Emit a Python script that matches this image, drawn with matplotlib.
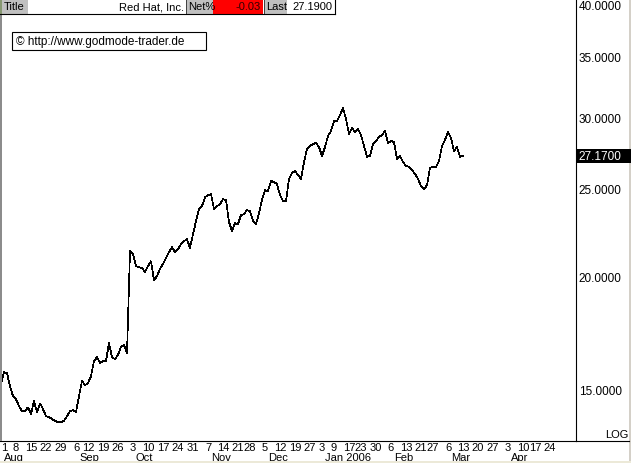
import matplotlib
matplotlib.use("Agg")
import matplotlib.pyplot as plt
import matplotlib.transforms as mtransforms
from matplotlib.patches import Rectangle
from matplotlib.lines import Line2D
from matplotlib.ticker import NullLocator
import pandas as pd

# ---------------- data ----------------
title_name = "Red Hat, Inc."
net_pct_text = "-0.03"
last_text = "27.1900"
current_price = 27.17
current_text = "27.1700"
watermark = "\u00a9 http://www.godmode-trader.de"

start_date = "2005-08-01"
end_date = "2006-04-28"
market_holidays = ["2005-09-05", "2005-11-24", "2005-12-26", "2006-01-02",
                   "2006-01-16", "2006-02-20", "2006-04-14"]

closes = [
    15.19, 15.66, 15.62, 15.11, 14.73, 14.62, 14.36, 14.18, 14.18, 14.32,
    14.07, 14.55, 14.14, 14.47, 14.25, 14.00, 13.97, 13.90, 13.83, 13.79,
    13.79, 13.83, 14.00, 14.18, 14.21, 14.14, 14.73, 15.31, 15.15, 15.23,
    15.50, 16.11, 16.27, 16.03, 16.11, 16.11, 16.87, 16.27, 16.19, 16.36,
    16.70, 16.78, 16.44, 21.32, 21.16, 20.52, 20.47, 20.42, 20.21, 20.52,
    20.78, 19.80, 20.00, 20.37, 20.63, 20.94, 21.27, 21.54, 21.27, 21.43,
    21.70, 21.87, 21.98, 21.49, 22.26, 23.01, 23.73, 23.91, 24.46, 24.59,
    24.65, 23.73, 23.91, 24.03, 24.34, 24.28, 22.96, 22.44, 22.90, 22.84,
    23.37, 23.43, 23.67, 23.61, 23.01, 22.84, 23.49, 24.28, 24.91, 24.84,
    25.49, 25.42, 25.29, 24.59, 24.22, 24.22, 25.62, 26.01, 26.15, 25.88,
    25.62, 26.75, 27.65, 27.86, 28.01, 28.08, 27.79, 27.17, 27.79, 28.59,
    28.95, 29.70, 29.70, 30.16, 30.70, 29.85, 28.73, 29.17, 28.88, 29.10,
    28.66, 27.86, 27.10, 27.17, 28.01, 28.23, 28.52, 28.66, 28.95, 28.08,
    28.23, 28.15, 26.96, 27.17, 26.75, 26.48, 26.42, 26.21, 25.95, 25.62,
    25.16, 24.97, 25.22, 26.35, 26.42, 26.42, 26.82, 27.86, 28.30, 28.88,
    28.44, 27.51, 27.79, 27.10, 27.17,
]

y_ticks = [15, 20, 25, 30, 35, 40]
y_tick_labels = ["15.0000", "20.0000", "25.0000", "30.0000", "35.0000", "40.0000"]

# ---------------- figure ----------------
W, H = 631, 464
plt.rcParams["font.family"] = ["Liberation Sans", "DejaVu Sans"]
fig = plt.figure(figsize=(W / 100, H / 100), dpi=100)
fig.patch.set_facecolor("white")


def fx(x):
    return x / W


def fy(y):
    return 1 - y / H


ax = fig.add_axes([0, 22 / H, 576 / W, 442 / H])
ax.set_facecolor("white")

days = pd.bdate_range(start_date, end_date, freq="C", holidays=market_holidays)
n = len(closes)
ax.plot(range(n), closes, color="black", lw=0.5, antialiased=False,
        solid_joinstyle="miter")

ax.set_yscale("log")
ax.set_xlim(-1 / 3, 575 / 3)
ax.set_ylim(13.14, 40.53)

for s in ["left", "top"]:
    ax.spines[s].set_visible(False)
ax.spines["right"].set_linewidth(0.8)
ax.spines["bottom"].set_linewidth(0.8)

ax.yaxis.tick_right()
ax.set_yticks(y_ticks)
ax.set_yticklabels(y_tick_labels)
ax.yaxis.set_minor_locator(NullLocator())
ax.tick_params(axis="y", length=0, pad=2, labelsize=8.5)

# weekly ticks: first trading day of each week
week_key = days.to_period("W")
first_of_week = [i for i in range(len(days)) if i == 0 or week_key[i] != week_key[i - 1]]
ax.set_xticks(first_of_week)
ax.set_xticklabels([str(days[i].day) for i in first_of_week])
ax.tick_params(axis="x", length=0, pad=1, labelsize=8)
xlbls = ax.get_xticklabels()
for k, lbl in enumerate(xlbls):
    lbl.set_horizontalalignment("left" if k == 0 else "center")

# month labels under first week-tick of each month
trans = mtransforms.blended_transform_factory(ax.transData, ax.transAxes)
prev_m = None
for i in first_of_week:
    m = days[i].month
    if m != prev_m:
        txt = days[i].strftime("%b")
        if days[i].month == 1:
            txt += " " + str(days[i].year)
        ax.text(i + 1, -0.026, txt, transform=trans, ha="left", va="top",
                fontsize=8, clip_on=False)
        prev_m = m

# ---------------- decorations ----------------
# left gray strip
fig.patches.append(Rectangle((0, fy(442)), fx(2), (442 - 15) / H,
                             transform=fig.transFigure, fc="#8c8c8c", ec="none"))
# right border
fig.patches.append(Rectangle((fx(629), 0), fx(2), 1, transform=fig.transFigure,
                             fc="#d4d0c8", ec="none"))
# bottom beige strip
fig.patches.append(Rectangle((0, 0), 1, 2.5 / H, transform=fig.transFigure,
                             fc="#ece9d8", ec="none"))
# horizontal line extending under right panel
fig.lines.append(Line2D([fx(576), fx(629)], [fy(442), fy(442)],
                         transform=fig.transFigure, color="black", lw=0.8))

# header
hdr_h = 15
fig.patches.append(Rectangle((0, fy(hdr_h)), fx(335), hdr_h / H,
                             transform=fig.transFigure, fc="white", ec="none"))
fig.patches.append(Rectangle((0, fy(hdr_h)), fx(2), hdr_h / H,
                             transform=fig.transFigure, fc="#879871", ec="none"))
for x0, x1, c in [(2, 28, "#c0c0c0"), (186, 213, "#c0c0c0"),
                  (213, 263, "#ff0000"), (264, 287, "#c0c0c0")]:
    fig.patches.append(Rectangle((fx(x0), fy(hdr_h)), fx(x1 - x0), hdr_h / H,
                                 transform=fig.transFigure, fc=c, ec="none"))
for xv in [185.5, 263.5]:
    fig.lines.append(Line2D([fx(xv), fx(xv)], [fy(hdr_h), 1],
                             transform=fig.transFigure, color="#404040", lw=0.7))
fig.lines.append(Line2D([0, fx(335)], [fy(hdr_h), fy(hdr_h)],
                         transform=fig.transFigure, color="black", lw=0.8))
fig.lines.append(Line2D([fx(335), fx(335)], [fy(hdr_h), 1],
                         transform=fig.transFigure, color="black", lw=0.8))
hy = fy(7.5)
fig.text(fx(4), hy, "Title", ha="left", va="center", fontsize=8)
fig.text(fx(184), hy, title_name, ha="right", va="center", fontsize=8)
fig.text(fx(188), hy, "Net%", ha="left", va="center", fontsize=8)
fig.text(fx(261), hy, net_pct_text, ha="right", va="center", fontsize=8, color="#300000")
fig.text(fx(266), hy, "Last", ha="left", va="center", fontsize=8)
fig.text(fx(332), hy, last_text, ha="right", va="center", fontsize=8)

# watermark box
fig.patches.append(Rectangle((fx(12), fy(51)), fx(194), 18 / H,
                             transform=fig.transFigure, fc="white", ec="black", lw=0.8))
fig.text(fx(16), fy(42), watermark, ha="left", va="center", fontsize=8.5)

# LOG label
fig.text(fx(628), fy(440), "LOG", ha="right", va="bottom", fontsize=8)

# current price marker
disp_y = ax.transData.transform((0, current_price))[1]
py_frac = disp_y / fig.bbox.height
fig.patches.append(Rectangle((fx(577), py_frac - 7 / H), fx(54), 14 / H,
                             transform=fig.transFigure, fc="black", ec="none"))
fig.text(fx(578), py_frac, current_text, ha="left", va="center",
         fontsize=8.5, color="white")

fig.savefig("out.png", dpi=100)
